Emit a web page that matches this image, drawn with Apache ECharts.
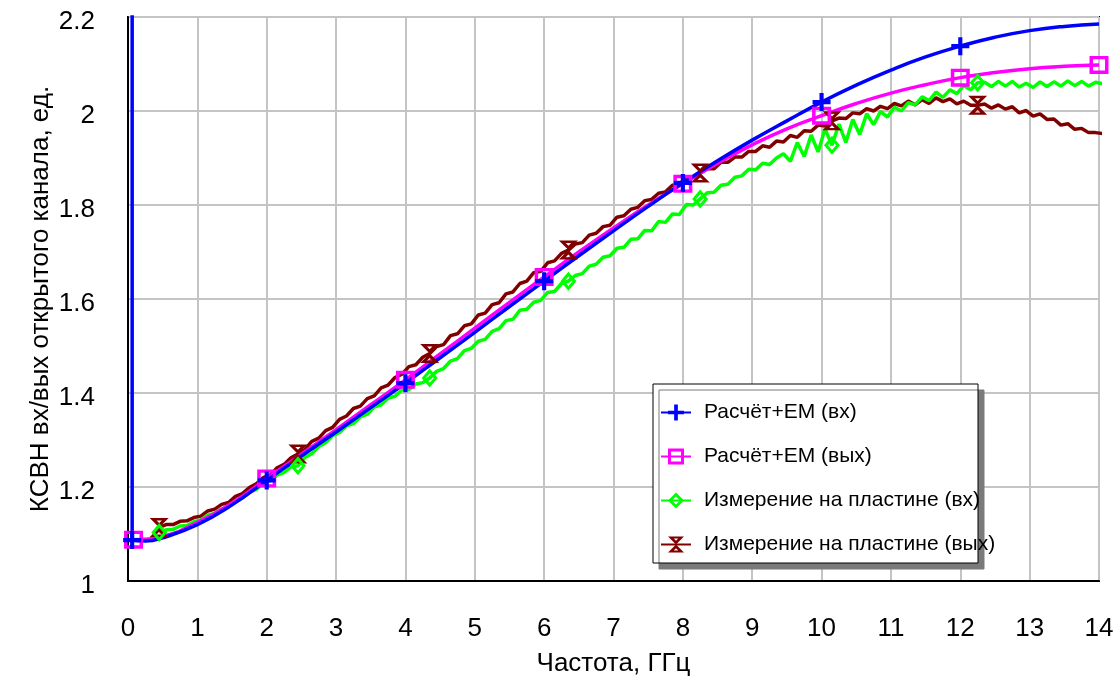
<!DOCTYPE html>
<html>
<head>
<meta charset="utf-8">
<script src="https://cdn.jsdelivr.net/npm/echarts@6/dist/echarts.min.js"></script>
<style>
  html, body { margin: 0; padding: 0; background: #ffffff; }
  #chart { width: 1118px; height: 684px; }
</style>
</head>
<body>
<div id="chart"></div>
<script>
// ---- series names ----
const seriesNames = [
  'Расчёт+EM (вх)',
  'Расчёт+EM (вых)',
  'Измерение на пластине (вх)',
  'Измерение на пластине (вых)'
];
const xAxisTitle = 'Частота, ГГц';
const yAxisTitle = 'КСВН вх/вых открытого канала, ед.';

// ---- axis ranges ----
const freqMin = 0, freqMax = 14, freqTick = 1;
const vswrMin = 1, vswrMax = 2.2, vswrTick = 0.2;

// ---- simulated (EM) input VSWR ----
const calcInFreq = [0.06, 0.25, 0.5, 1, 1.5, 2, 2.5, 3, 3.5, 4, 4.5, 5, 5.5, 6, 6.5, 7,
  7.5, 8, 8.5, 9, 9.5, 10, 10.5, 11, 11.5, 12, 12.5, 13, 13.5, 14];
const calcInVswr = [1.087, 1.085, 1.092, 1.120, 1.162, 1.214, 1.266, 1.317, 1.369, 1.421,
  1.475, 1.529, 1.584, 1.638, 1.692, 1.745, 1.797, 1.847, 1.894, 1.938, 1.979, 2.019,
  2.055, 2.087, 2.115, 2.138, 2.157, 2.171, 2.180, 2.185];
// DC end of the simulated input trace (goes off-scale)
const calcInSpikeFreq = [0.06, 0.06];
const calcInSpikeVswr = [2.4, 1.087];
const calcInMarks = [0.06, 2, 4, 6, 8, 10, 12];

// ---- simulated (EM) output VSWR ----
const calcOutFreq = [0.08, 0.5, 1, 1.5, 2, 2.5, 3, 3.5, 4, 4.5, 5, 5.5, 6, 6.5, 7, 7.5,
  8, 8.5, 9, 9.5, 10, 10.5, 11, 11.5, 12, 12.5, 13, 13.5, 14];
const calcOutVswr = [1.088, 1.095, 1.125, 1.166, 1.218, 1.270, 1.322, 1.375, 1.428, 1.483,
  1.538, 1.593, 1.647, 1.700, 1.751, 1.800, 1.845, 1.889, 1.928, 1.962, 1.990, 2.016,
  2.038, 2.056, 2.071, 2.082, 2.090, 2.095, 2.098];
const calcOutMarks = [0.08, 2, 4, 6, 8, 10, 12, 14];

// ---- on-wafer measurement: sweep 0.45 GHz, step 0.1 GHz ----
const measStartGHz = 0.45;
const measStepGHz = 0.1;
const measInVswr = [
  1.103, 1.109, 1.110, 1.117, 1.118, 1.126, 1.130, 1.140, 1.144, 1.153,
  1.159, 1.171, 1.177, 1.189, 1.195, 1.207, 1.213, 1.225, 1.231, 1.243,
  1.245, 1.263, 1.271, 1.286, 1.294, 1.309, 1.316, 1.330, 1.335, 1.349,
  1.355, 1.370, 1.375, 1.389, 1.393, 1.407, 1.407, 1.419, 1.422, 1.432,
  1.446, 1.452, 1.468, 1.473, 1.490, 1.495, 1.510, 1.514, 1.531, 1.537,
  1.554, 1.557, 1.576, 1.578, 1.593, 1.597, 1.614, 1.616, 1.633, 1.638,
  1.650, 1.654, 1.670, 1.674, 1.689, 1.692, 1.708, 1.710, 1.727, 1.728,
  1.746, 1.745, 1.765, 1.763, 1.781, 1.780, 1.801, 1.800, 1.813, 1.826,
  1.827, 1.842, 1.844, 1.859, 1.862, 1.876, 1.875, 1.889, 1.886, 1.900,
  1.909, 1.893, 1.933, 1.903, 1.949, 1.913, 1.962, 1.927, 1.972, 1.933,
  1.982, 1.950, 1.994, 1.971, 1.999, 1.987, 2.008, 2.000, 2.018, 2.013,
  2.030, 2.022, 2.040, 2.029, 2.045, 2.037, 2.054, 2.045, 2.060, 2.061,
  2.052, 2.063, 2.053, 2.063, 2.051, 2.059, 2.050, 2.062, 2.052, 2.062,
  2.053, 2.064, 2.054, 2.063, 2.053, 2.061, 2.058
];
const measOutVswr = [
  1.114, 1.120, 1.120, 1.127, 1.128, 1.135, 1.138, 1.149, 1.153, 1.163,
  1.167, 1.180, 1.186, 1.199, 1.207, 1.220, 1.225, 1.241, 1.248, 1.262,
  1.270, 1.280, 1.297, 1.304, 1.320, 1.327, 1.344, 1.351, 1.367, 1.372,
  1.388, 1.394, 1.411, 1.417, 1.433, 1.440, 1.456, 1.460, 1.476, 1.484,
  1.499, 1.503, 1.522, 1.526, 1.543, 1.547, 1.566, 1.570, 1.588, 1.592,
  1.611, 1.615, 1.633, 1.638, 1.656, 1.659, 1.677, 1.681, 1.697, 1.704,
  1.717, 1.720, 1.736, 1.740, 1.754, 1.757, 1.774, 1.777, 1.791, 1.795,
  1.809, 1.812, 1.825, 1.828, 1.842, 1.845, 1.857, 1.859, 1.868, 1.877,
  1.877, 1.891, 1.891, 1.902, 1.902, 1.914, 1.914, 1.926, 1.923, 1.936,
  1.934, 1.948, 1.944, 1.958, 1.957, 1.970, 1.968, 1.979, 1.985, 1.984,
  1.996, 1.994, 2.005, 2.000, 2.010, 2.005, 2.016, 2.011, 2.021, 2.013,
  2.024, 2.016, 2.028, 2.020, 2.026, 2.015, 2.021, 2.012, 2.012, 2.015,
  2.006, 2.013, 2.004, 2.009, 1.996, 2.001, 1.989, 1.994, 1.982, 1.983,
  1.970, 1.973, 1.961, 1.963, 1.954, 1.954, 1.952
];
const measMarks = [0.45, 2.45, 4.35, 6.35, 8.25, 10.15, 12.25];

// ---- colours ----
const colors = ['#0000ff', '#ff00ff', '#00ff00', '#800000'];

// ---- marker shapes (filled outlines, holes by reverse winding) ----
const symPlus = 'path://M-2.3,-10L2.3,-10L2.3,-2.3L10,-2.3L10,2.3L2.3,2.3L2.3,10L-2.3,10L-2.3,2.3L-10,2.3L-10,-2.3L-2.3,-2.3Z';
const symSquare = 'path://M-10,-10L10,-10L10,10L-10,10Z M-6.3,-6.3L-6.3,6.3L6.3,6.3L6.3,-6.3Z';
const symDiamond = 'path://M0,-10L10,0L0,10L-10,0Z M0,-5L-5,0L0,5L5,0Z';
const symHourglass = 'path://M-10,-10L10,-10L0,0Z M-2.8,-7.4L0,-4.6L2.8,-7.4Z M0,0L10,10L-10,10Z M-2.8,7.4L2.8,7.4L0,4.6Z';

const FONT = "'Liberation Sans', Arial, sans-serif";
const LINE_W = 3.5;

const measFreq = measInVswr.map((_, i) => +(measStartGHz + i * measStepGHz).toFixed(2));

function hasMark(marks, f) {
  return marks.some(m => Math.abs(m - f) < 1e-6);
}
function buildData(freqs, vals, marks) {
  return freqs.map((f, i) => {
    const item = { value: [f, vals[i]] };
    if (!hasMark(marks, f)) item.symbol = 'none';
    return item;
  });
}

function lineSeries(name, color, symbol, symbolSize, data, smooth) {
  return {
    name: name,
    type: 'line',
    data: data,
    smooth: smooth,
    symbol: symbol,
    symbolSize: symbolSize,
    showSymbol: true,
    showAllSymbol: true,
    clip: true,
    lineStyle: { color: color, width: LINE_W },
    itemStyle: { color: color, borderWidth: 0 },
    emphasis: { disabled: true },
    animation: false
  };
}

const chart = echarts.init(document.getElementById('chart'), null, { renderer: 'canvas' });

const option = {
  backgroundColor: '#ffffff',
  animation: false,
  grid: {
    left: 128, top: 17, width: 971, height: 564,
    show: true, borderColor: '#000000', borderWidth: 2, backgroundColor: 'transparent'
  },
  xAxis: {
    type: 'value',
    min: freqMin, max: freqMax, interval: freqTick,
    name: xAxisTitle,
    nameLocation: 'middle',
    nameGap: 70,
    nameMoveOverlap: false,
    nameTextStyle: { fontSize: 26, fontFamily: FONT, color: '#000' },
    axisLine: { show: true, lineStyle: { color: '#000', width: 2 } },
    axisTick: { show: false },
    axisLabel: { margin: 35, fontSize: 26, fontFamily: FONT, color: '#000' },
    splitLine: { show: true, lineStyle: { color: '#c4c4c4', width: 2 } }
  },
  yAxis: {
    type: 'value',
    min: vswrMin, max: vswrMax, interval: vswrTick,
    name: yAxisTitle,
    nameLocation: 'middle',
    nameGap: 74,
    nameMoveOverlap: false,
    nameTextStyle: { fontSize: 26, fontFamily: FONT, color: '#000' },
    axisLine: { show: true, lineStyle: { color: '#000', width: 2 } },
    axisTick: { show: false },
    axisLabel: {
      margin: 33, verticalAlign: 'top', lineHeight: 10,
      fontSize: 26, fontFamily: FONT, color: '#000'
    },
    splitLine: { show: true, lineStyle: { color: '#c4c4c4', width: 2 } }
  },
  legend: {
    data: seriesNames,
    orient: 'vertical',
    left: 660,
    top: 402,
    padding: 0,
    itemWidth: 30,
    itemHeight: 20,
    itemGap: 23,
    selectedMode: false,
    textStyle: { fontSize: 21, fontFamily: FONT, color: '#000', padding: [0, 0, 0, 8] },
    z: 10
  },
  graphic: [{
    type: 'rect',
    z: 5,
    shape: { x: 653, y: 384, width: 325, height: 179 },
    style: {
      fill: '#ffffff', stroke: '#000000', lineWidth: 1,
      shadowColor: '#7a7a7a', shadowBlur: 0, shadowOffsetX: 6, shadowOffsetY: 6
    }
  }],
  series: [
    lineSeries(seriesNames[3], colors[3], symHourglass, [19, 19],
      buildData(measFreq, measOutVswr, measMarks), false),
    lineSeries(seriesNames[2], colors[2], symDiamond, [16, 19],
      buildData(measFreq, measInVswr, measMarks), false),
    lineSeries(seriesNames[1], colors[1], symSquare, [19, 18],
      buildData(calcOutFreq, calcOutVswr, calcOutMarks), true),
    lineSeries(seriesNames[0], colors[0], symPlus, [18, 18],
      buildData(calcInFreq, calcInVswr, calcInMarks), true),
    {
      type: 'line',
      data: calcInSpikeFreq.map((f, i) => [f, calcInSpikeVswr[i]]),
      symbol: 'none',
      clip: true,
      lineStyle: { color: colors[0], width: LINE_W },
      emphasis: { disabled: true },
      silent: true,
      animation: false
    }
  ]
};

chart.setOption(option);
</script>
</body>
</html>
